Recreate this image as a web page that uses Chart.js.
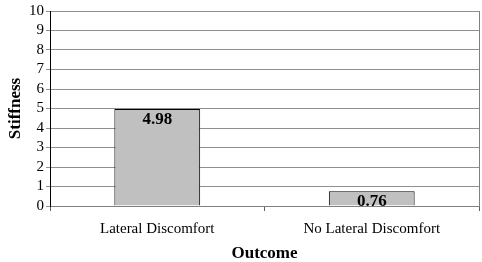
<!DOCTYPE html>
<html>
<head>
<meta charset="utf-8">
<script src="https://cdn.jsdelivr.net/npm/chart.js@4"></script>
<style>
  html, body { margin: 0; padding: 0; background: #ffffff; }
  #wrap { width: 482px; height: 262px; }
</style>
</head>
<body>
<div id="wrap"><canvas id="outcome"></canvas></div>
<script>
const categories = ["Lateral Discomfort", "No Lateral Discomfort"];
const stiffness = [4.98, 0.76];
const yTicks = [0, 1, 2, 3, 4, 5, 6, 7, 8, 9, 10];

const serif = "'Liberation Serif', 'Times New Roman', serif";

// value labels drawn inside the top of each bar
const barLabels = {
  id: "barLabels",
  afterDatasetsDraw(chart) {
    const ctx = chart.ctx;
    const meta = chart.getDatasetMeta(0);
    ctx.save();
    ctx.font = "bold 17px " + serif;
    ctx.fillStyle = "#000";
    ctx.textAlign = "center";
    ctx.textBaseline = "top";
    meta.data.forEach((bar, i) => {
      ctx.fillText(stiffness[i].toFixed(2), bar.x, bar.y + 2);
    });
    ctx.restore();
  }
};

// right border of the plot area
const rightBorder = {
  id: "rightBorder",
  afterDraw(chart) {
    const a = chart.chartArea;
    const ctx = chart.ctx;
    ctx.save();
    ctx.strokeStyle = "#808080";
    ctx.lineWidth = 1;
    ctx.beginPath();
    ctx.moveTo(Math.round(a.right) + 0.5, a.top);
    ctx.lineTo(Math.round(a.right) + 0.5, a.bottom);
    ctx.stroke();
    ctx.restore();
  }
};

const ctx = document.getElementById("outcome").getContext("2d");
const chart = new Chart(ctx, {
  type: "bar",
  data: {
    labels: categories,
    datasets: [
      {
        label: "Stiffness",
        data: stiffness,
        backgroundColor: "#c0c0c0",
        borderColor: "#000000",
        borderWidth: 1,
        barPercentage: 0.4,
        categoryPercentage: 1,
      },
    ],
  },
  options: {
    responsive: true,
    maintainAspectRatio: false,
    animation: false,
    layout: { padding: { left: 0, right: 3, top: 4, bottom: 0 } },
    plugins: {
      legend: { display: false },
      tooltip: { enabled: false },
    },
    scales: {
      x: {
        offset: true,
        grid: {
          offset: true,
          drawOnChartArea: false,
          drawTicks: true,
          tickLength: 5,
          color: "#606060",
        },
        border: { display: true, color: "#808080" },
        ticks: {
          color: "#000",
          font: { family: serif, size: 15 },
          padding: 9,
        },
        title: {
          display: true,
          text: "Outcome",
          color: "#000",
          font: { family: serif, size: 17, weight: "bold", lineHeight: 1 },
          padding: { top: 8, bottom: 0 },
        },
        afterFit(scale) { scale.height = 56; },
      },
      y: {
        min: 0,
        max: 10,
        afterBuildTicks(scale) {
          scale.ticks = yTicks.map(v => ({ value: v }));
        },
        grid: {
          color: "#909090",
          tickLength: 4,
          drawTicks: true,
        },
        border: { display: true, color: "#000000" },
        ticks: {
          color: "#000",
          autoSkip: false,
          font: { family: serif, size: 15 },
          padding: 2,
        },
        title: {
          display: true,
          text: "Stiffness",
          color: "#000",
          font: { family: serif, size: 17, weight: "bold" },
          padding: { top: 5, bottom: 4 },
        },
        afterFit(scale) { scale.width = 50; },
      },
    },
  },
  plugins: [barLabels, rightBorder],
});
</script>
</body>
</html>
